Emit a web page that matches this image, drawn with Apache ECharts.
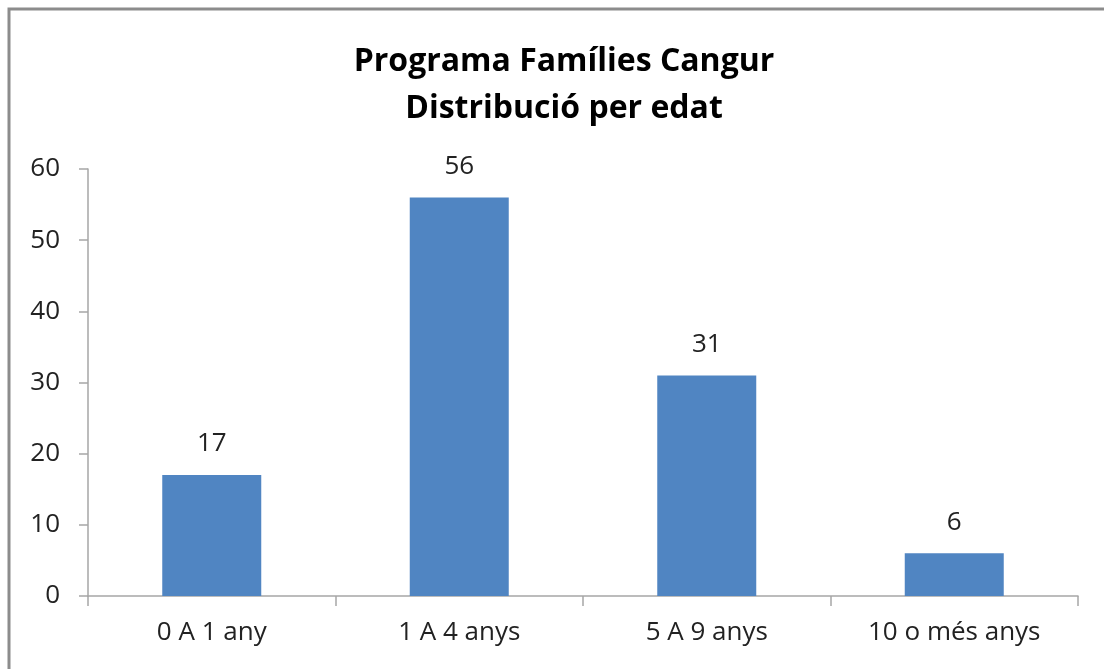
<!DOCTYPE html>
<html>
<head>
<meta charset="utf-8">
<script src="https://cdn.jsdelivr.net/npm/echarts@6/dist/echarts.min.js"></script>
<style>
  html, body { margin: 0; padding: 0; background: #fff; }
  #chart { width: 1104px; height: 669px; }
</style>
</head>
<body>
<div id="chart"></div>
<script>
const categories = ['0 A 1 any', '1 A 4 anys', '5 A 9 anys', '10 o més anys'];
const values = [17, 56, 31, 6];
const titleLines = ['Programa Famílies Cangur', 'Distribució per edat'];

const chart = echarts.init(document.getElementById('chart'));
const font = '"Open Sans", sans-serif';

let option = {
    animation: false,
    textStyle: { fontFamily: font },
    title: {
        text: titleLines.join('\n'),
        left: 559,
        top: 33,
        textAlign: 'center',
        textStyle: {
            fontFamily: font,
            fontSize: 32,
            fontWeight: 'bold',
            color: '#000',
            lineHeight: 47
        }
    },
    graphic: [{
        type: 'rect',
        shape: { x: 9, y: 9, width: 1300, height: 900 },
        style: { fill: 'none', stroke: '#8c8c8c', lineWidth: 3 },
        silent: true
    }],
    grid: { left: 88, right: 26, top: 169, bottom: 73 },
    xAxis: {
        type: 'category',
        data: categories,
        axisLine: { lineStyle: { color: '#a6a6a6', width: 1.5 } },
        axisTick: { show: true, length: 10, lineStyle: { color: '#a6a6a6', width: 1.5 } },
        axisLabel: { fontSize: 26, color: '#222', margin: 24, fontFamily: font }
    },
    yAxis: {
        type: 'value',
        min: 0,
        max: 60,
        interval: 10,
        splitLine: { show: false },
        axisLine: { show: true, lineStyle: { color: '#a6a6a6', width: 1.5 } },
        axisTick: { show: true, length: 9, lineStyle: { color: '#a6a6a6', width: 1.5 } },
        axisLabel: { fontSize: 26, color: '#222', margin: 28, fontFamily: font }
    },
    series: [{
        type: 'bar',
        data: values,
        barWidth: '40%',
        itemStyle: { color: '#5085c2' },
        label: {
            show: true,
            position: 'top',
            distance: 18,
            fontSize: 26,
            color: '#222',
            fontFamily: font
        }
    }]
};

chart.setOption(option);
</script>
</body>
</html>
